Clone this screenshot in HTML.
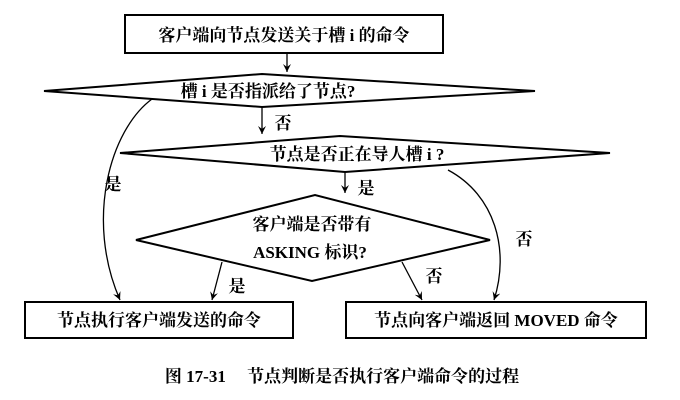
<!DOCTYPE html>
<html><head><meta charset="utf-8"><style>
html,body{margin:0;padding:0;background:#fff;}
svg{display:block}
text{font-family:"Liberation Serif","Noto Serif CJK SC",serif;font-weight:bold;fill:#000;}
</style></head><body>
<svg width="680" height="400" viewBox="0 0 680 400">
<defs>
<marker id="b" markerWidth="8" markerHeight="10" refX="8" refY="4" orient="auto" markerUnits="userSpaceOnUse"><path d="M0,0 L8,4 L0,8 L3,4Z" fill="#000"/></marker></defs>
<g stroke="#000" stroke-width="2" fill="none">
<rect x="125" y="15" width="318" height="38"/>
<polygon points="44,91 262,74 535,91 262,107"/>
<polygon points="120,153 340,136 610,153 345,172"/>
<polygon points="136,240 315,195 490,240 312,281"/>
<rect x="25" y="302" width="268" height="36"/>
<rect x="346" y="302" width="300" height="36"/>
</g>
<g stroke="#000" stroke-width="1.3" fill="none">
<line x1="287" y1="53" x2="287" y2="72" marker-end="url(#b)"/>
<line x1="262" y1="107" x2="262" y2="134" marker-end="url(#b)"/>
<line x1="345" y1="172" x2="345" y2="193" marker-end="url(#b)"/>
<path d="M152,99 C110,130 85,220 120,300" marker-end="url(#b)"/>
<path d="M448,170 C495,195 510,250 494,300" marker-end="url(#b)"/>
<line x1="222" y1="262" x2="212" y2="300" marker-end="url(#b)"/>
<line x1="402" y1="262" x2="422" y2="300" marker-end="url(#b)"/>
</g>
<g font-size="17" text-anchor="middle">
<text x="284" y="41">客户端向节点发送关于槽 i 的命令</text>
<text x="268" y="97">槽 i 是否指派给了节点?</text>
<text x="357" y="160">节点是否正在导人槽 i ?</text>
<text x="312" y="230">客户端是否带有</text>
<text x="310" y="258">ASKING 标识?</text>
<text x="159" y="326">节点执行客户端发送的命令</text>
<text x="496" y="326">节点向客户端返回 MOVED 命令</text>
<text x="283" y="129">否</text>
<text x="366" y="194">是</text>
<text x="113" y="190">是</text>
<text x="524" y="245">否</text>
<text x="237" y="292">是</text>
<text x="434" y="282">否</text>
<text x="342" y="382">图 17-31　 节点判断是否执行客户端命令的过程</text>
</g>
</svg>
</body></html>
